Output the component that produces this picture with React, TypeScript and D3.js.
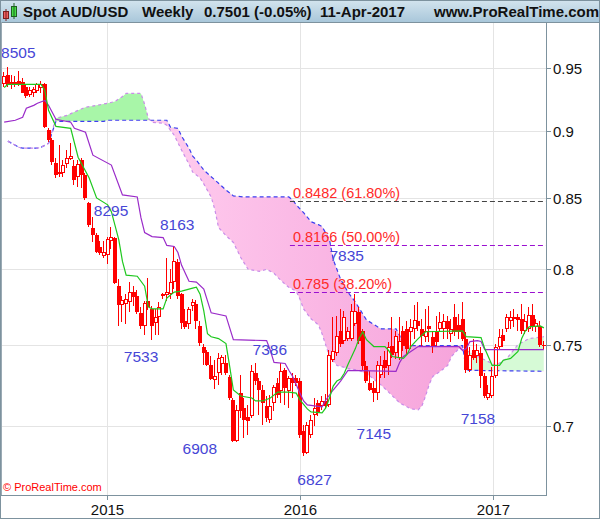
import React from 'react';
import * as d3 from 'd3';

// ---- Weekly OHLC (AUD/USD), first bar week of 20-Jun-2014 ----
const opens = [
  0.9364, 0.9443, 0.9364, 0.9364, 0.9395, 0.9387, 0.9340, 0.9277, 0.9293, 0.9308,
  0.9332, 0.9364, 0.9006, 0.8930, 0.8758, 0.8691, 0.8684, 0.8750, 0.8788, 0.8736,
  0.8655, 0.8780, 0.8669, 0.8467, 0.8290, 0.8241, 0.8151, 0.8089, 0.8096, 0.8193,
  0.8220, 0.7887, 0.7762, 0.7768, 0.7781, 0.7847, 0.7821, 0.7710, 0.7625, 0.7788,
  0.7736, 0.7645, 0.7684, 0.7821, 0.7827, 0.7834, 0.7914, 0.8048, 0.7834, 0.7658,
  0.7638, 0.7755, 0.7768, 0.7625, 0.7486, 0.7455, 0.7373, 0.7281, 0.7324, 0.7379,
  0.7385, 0.7299, 0.7159, 0.6916, 0.7201, 0.7111, 0.7057, 0.7063, 0.7324, 0.7275,
  0.7220, 0.7123, 0.7039, 0.7141, 0.7262, 0.7213, 0.7342, 0.7213, 0.7293, 0.7293,
  0.7275, 0.6975, 0.6841, 0.6951, 0.7069, 0.7141, 0.7123, 0.7153, 0.7129, 0.7405,
  0.7448, 0.7593, 0.7530, 0.7543, 0.7543, 0.7638, 0.7716, 0.7593, 0.7367, 0.7262,
  0.7232, 0.7201, 0.7311, 0.7405, 0.7367, 0.7498, 0.7448, 0.7417, 0.7593, 0.7606,
  0.7587, 0.7606, 0.7658, 0.7606, 0.7555, 0.7625, 0.7555, 0.7587, 0.7606, 0.7606,
  0.7658, 0.7574, 0.7684, 0.7632, 0.7671, 0.7543, 0.7342, 0.7467, 0.7429, 0.7448,
  0.7305, 0.7171, 0.7183, 0.7305, 0.7492, 0.7568, 0.7606, 0.7658, 0.7684, 0.7684,
  0.7671, 0.7593, 0.7606, 0.7697, 0.7619, 0.7625, 0.7505,
];
const highs = [
  0.9460, 0.9505, 0.9443, 0.9435, 0.9468, 0.9419, 0.9356, 0.9340, 0.9340, 0.9379,
  0.9395, 0.9379, 0.9021, 0.8945, 0.8795, 0.8892, 0.8780, 0.8855, 0.8907, 0.8780,
  0.8780, 0.8795, 0.8684, 0.8474, 0.8367, 0.8255, 0.8199, 0.8199, 0.8227, 0.8295,
  0.8227, 0.7934, 0.7821, 0.7834, 0.7914, 0.7887, 0.7860, 0.7749, 0.7788, 0.7940,
  0.7755, 0.7736, 0.7781, 0.7841, 0.8076, 0.8001, 0.8163, 0.8069, 0.7841, 0.7736,
  0.7749, 0.7801, 0.7795, 0.7658, 0.7511, 0.7467, 0.7429, 0.7405, 0.7448, 0.7436,
  0.7436, 0.7311, 0.7171, 0.7129, 0.7311, 0.7171, 0.7129, 0.7373, 0.7385, 0.7293,
  0.7250, 0.7183, 0.7189, 0.7250, 0.7293, 0.7386, 0.7354, 0.7305, 0.7324, 0.7311,
  0.7293, 0.7010, 0.7028, 0.7069, 0.7171, 0.7159, 0.7183, 0.7195, 0.7467, 0.7684,
  0.7690, 0.7736, 0.7723, 0.7619, 0.7768, 0.7835, 0.7749, 0.7606, 0.7398, 0.7336,
  0.7275, 0.7398, 0.7429, 0.7461, 0.7524, 0.7684, 0.7593, 0.7684, 0.7625, 0.7658,
  0.7671, 0.7762, 0.7781, 0.7671, 0.7736, 0.7755, 0.7593, 0.7690, 0.7716, 0.7703,
  0.7690, 0.7671, 0.7768, 0.7703, 0.7781, 0.7587, 0.7492, 0.7543, 0.7511, 0.7492,
  0.7324, 0.7250, 0.7361, 0.7511, 0.7606, 0.7606, 0.7703, 0.7723, 0.7736, 0.7703,
  0.7768, 0.7703, 0.7749, 0.7768, 0.7671, 0.7658, 0.7530,
];
const lows = [
  0.9340, 0.9340, 0.9324, 0.9340, 0.9348, 0.9293, 0.9254, 0.9261, 0.9261, 0.9293,
  0.9300, 0.9021, 0.8915, 0.8743, 0.8648, 0.8655, 0.8655, 0.8721, 0.8780, 0.8596,
  0.8582, 0.8575, 0.8488, 0.8297, 0.8186, 0.8116, 0.8096, 0.8076, 0.8035, 0.8137,
  0.7900, 0.7625, 0.7651, 0.7638, 0.7716, 0.7755, 0.7703, 0.7606, 0.7568, 0.7729,
  0.7533, 0.7568, 0.7568, 0.7801, 0.7788, 0.7801, 0.7867, 0.7801, 0.7606, 0.7606,
  0.7606, 0.7723, 0.7606, 0.7498, 0.7373, 0.7367, 0.7281, 0.7226, 0.7250, 0.7311,
  0.7311, 0.7159, 0.6908, 0.6908, 0.7051, 0.6934, 0.6951, 0.7051, 0.7250, 0.7069,
  0.7010, 0.7028, 0.7022, 0.7093, 0.7171, 0.7141, 0.7129, 0.7111, 0.7171, 0.7244,
  0.6934, 0.6827, 0.6835, 0.6934, 0.7004, 0.7063, 0.7099, 0.7105, 0.7117, 0.7392,
  0.7429, 0.7492, 0.7511, 0.7530, 0.7530, 0.7625, 0.7511, 0.7342, 0.7262, 0.7213,
  0.7145, 0.7159, 0.7293, 0.7293, 0.7311, 0.7417, 0.7411, 0.7405, 0.7461, 0.7436,
  0.7479, 0.7543, 0.7593, 0.7498, 0.7524, 0.7524, 0.7448, 0.7498, 0.7587, 0.7543,
  0.7543, 0.7524, 0.7562, 0.7543, 0.7530, 0.7324, 0.7330, 0.7405, 0.7385, 0.7232,
  0.7171, 0.7158, 0.7171, 0.7293, 0.7479, 0.7492, 0.7587, 0.7606, 0.7619, 0.7593,
  0.7574, 0.7574, 0.7587, 0.7593, 0.7587, 0.7492, 0.7479,
];
const closes = [
  0.9435, 0.9356, 0.9387, 0.9387, 0.9364, 0.9300, 0.9269, 0.9316, 0.9324, 0.9364,
  0.9371, 0.9029, 0.8930, 0.8765, 0.8669, 0.8677, 0.8743, 0.8795, 0.8810, 0.8633,
  0.8750, 0.8669, 0.8502, 0.8311, 0.8241, 0.8123, 0.8116, 0.8123, 0.8213, 0.8227,
  0.7907, 0.7762, 0.7795, 0.7801, 0.7847, 0.7814, 0.7716, 0.7625, 0.7775, 0.7749,
  0.7625, 0.7684, 0.7749, 0.7834, 0.7847, 0.7914, 0.8055, 0.7821, 0.7645, 0.7619,
  0.7736, 0.7781, 0.7658, 0.7517, 0.7448, 0.7373, 0.7287, 0.7305, 0.7417, 0.7423,
  0.7324, 0.7171, 0.6916, 0.7099, 0.7093, 0.7039, 0.7033, 0.7336, 0.7275, 0.7220,
  0.7141, 0.7051, 0.7123, 0.7238, 0.7189, 0.7336, 0.7232, 0.7293, 0.7262, 0.7262,
  0.6951, 0.6841, 0.7010, 0.7039, 0.7111, 0.7087, 0.7153, 0.7123, 0.7436, 0.7461,
  0.7562, 0.7511, 0.7684, 0.7593, 0.7723, 0.7723, 0.7530, 0.7367, 0.7275, 0.7220,
  0.7201, 0.7373, 0.7373, 0.7354, 0.7492, 0.7436, 0.7562, 0.7530, 0.7498, 0.7479,
  0.7619, 0.7664, 0.7625, 0.7562, 0.7593, 0.7606, 0.7498, 0.7524, 0.7651, 0.7658,
  0.7606, 0.7606, 0.7587, 0.7587, 0.7543, 0.7342, 0.7436, 0.7417, 0.7467, 0.7305,
  0.7183, 0.7201, 0.7305, 0.7492, 0.7555, 0.7530, 0.7684, 0.7684, 0.7671, 0.7664,
  0.7593, 0.7658, 0.7697, 0.7619, 0.7645, 0.7505, 0.7501,
];

// ---- Ichimoku lines: [week index, price] vertices ----
const tenkan = [
  [0, 0.9340], [1, 0.9364], [10, 0.9364], [11, 0.9316], [12, 0.9160], [14, 0.9036], [18, 0.9021],
  [20, 0.8802], [23, 0.8648], [25, 0.8502], [28, 0.8452], [29, 0.8403], [31, 0.8206], [32, 0.8055],
  [33, 0.7961], [36, 0.7954], [38, 0.7887], [39, 0.7749], [40, 0.7736], [43, 0.7736], [44, 0.7808],
  [46, 0.7847], [48, 0.7854], [51, 0.7874], [52, 0.7880], [53, 0.7834], [54, 0.7723], [55, 0.7574],
  [56, 0.7555], [58, 0.7543], [60, 0.7511], [61, 0.7367], [62, 0.7220], [64, 0.7183], [67, 0.7171],
  [68, 0.7153], [70, 0.7153], [72, 0.7171], [74, 0.7207], [77, 0.7207], [79, 0.7201], [80, 0.7159],
  [82, 0.7105], [83, 0.7087], [86, 0.7081], [87, 0.7111], [88, 0.7171], [89, 0.7244], [90, 0.7275],
  [91, 0.7287], [92, 0.7324], [93, 0.7379], [94, 0.7429], [95, 0.7479], [96, 0.7543], [97, 0.7587],
  [98, 0.7536], [100, 0.7492], [103, 0.7492], [104, 0.7467], [105, 0.7429], [108, 0.7417], [109, 0.7442],
  [110, 0.7492], [112, 0.7543], [114, 0.7587], [124, 0.7593], [125, 0.7555], [129, 0.7549], [130, 0.7479],
  [132, 0.7373], [134, 0.7373], [135, 0.7405], [137, 0.7417], [139, 0.7461], [140, 0.7543], [141, 0.7593],
  [142, 0.7619], [145, 0.7625], [146, 0.7612],
];
const kijun = [
  [0, 0.9068], [3, 0.9083], [5, 0.9106], [6, 0.9176], [8, 0.9199], [9, 0.9215], [11, 0.9238], [12, 0.9199],
  [14, 0.9091], [18, 0.9068], [19, 0.9021], [22, 0.8991], [24, 0.8817], [29, 0.8743], [32, 0.8524],
  [36, 0.8509], [37, 0.8360], [38, 0.8255], [40, 0.8227], [43, 0.8220], [44, 0.8165], [46, 0.8158],
  [47, 0.8116], [48, 0.8028], [50, 0.7920], [52, 0.7914], [54, 0.7867], [56, 0.7710], [60, 0.7690],
  [62, 0.7536], [71, 0.7530], [72, 0.7467], [73, 0.7392], [76, 0.7385], [77, 0.7342], [78, 0.7305],
  [80, 0.7201], [81, 0.7153], [82, 0.7129], [86, 0.7117], [87, 0.7159], [89, 0.7220], [91, 0.7275],
  [93, 0.7342], [106, 0.7336], [107, 0.7392], [108, 0.7429], [110, 0.7461], [112, 0.7492], [123, 0.7492],
  [124, 0.7467], [125, 0.7479], [126, 0.7524], [128, 0.7530], [129, 0.7524], [130, 0.7473], [146, 0.7473],
];
const senkouA = [
  [1, 0.8923], [2, 0.8907], [4, 0.8877], [5, 0.8870], [9, 0.8870], [10, 0.8877], [12, 0.8907],
  [14, 0.9098], [15, 0.9106], [17, 0.9121], [20, 0.9160], [22, 0.9184], [25, 0.9199], [28, 0.9215],
  [30, 0.9230], [32, 0.9269], [33, 0.9293], [37, 0.9293], [38, 0.9207], [39, 0.9098], [40, 0.9068],
  [43, 0.9060], [44, 0.9044], [46, 0.8968], [48, 0.8855], [50, 0.8750], [51, 0.8691], [53, 0.8648],
  [54, 0.8604], [56, 0.8509], [57, 0.8417], [58, 0.8290], [60, 0.8234], [62, 0.8186], [64, 0.8082],
  [66, 0.8001], [69, 0.7987], [71, 0.8001], [73, 0.7974], [74, 0.7947], [76, 0.7900], [77, 0.7880],
  [79, 0.7854], [80, 0.7801], [81, 0.7736], [83, 0.7671], [85, 0.7632], [86, 0.7574], [88, 0.7429],
  [90, 0.7373], [93, 0.7354], [96, 0.7342], [99, 0.7305], [102, 0.7250], [104, 0.7207], [107, 0.7141],
  [110, 0.7105], [112, 0.7099], [113, 0.7123], [114, 0.7183], [115, 0.7256], [116, 0.7305], [118, 0.7336],
  [120, 0.7373], [121, 0.7429], [123, 0.7479], [125, 0.7467], [127, 0.7442], [133, 0.7373], [136, 0.7417],
  [139, 0.7505], [142, 0.7543], [146, 0.7555],
];
const senkouB = [
  [1, 0.8923], [2, 0.8907], [4, 0.8877], [5, 0.8870], [9, 0.8870], [10, 0.8877], [12, 0.8907],
  [14, 0.9075], [27, 0.9075], [28, 0.9083], [44, 0.9083], [45, 0.9029], [47, 0.9021], [48, 0.8960],
  [50, 0.8870], [51, 0.8810], [52, 0.8780], [54, 0.8706], [57, 0.8633], [60, 0.8560], [62, 0.8517],
  [65, 0.8509], [77, 0.8509], [78, 0.8488], [79, 0.8452], [81, 0.8396], [83, 0.8332], [85, 0.8311],
  [86, 0.8297], [88, 0.8206], [89, 0.8069], [91, 0.7934], [93, 0.7847], [95, 0.7781], [97, 0.7703],
  [98, 0.7664], [101, 0.7619], [102, 0.7606], [106, 0.7606], [107, 0.7562], [108, 0.7498], [124, 0.7498],
  [125, 0.7342], [146, 0.7336],
];

// ---- axes and annotations ----
const yTicks = [0.95, 0.9, 0.85, 0.8, 0.75, 0.7];
const yTickLabels = ['0.95', '0.9', '0.85', '0.8', '0.75', '0.7'];
const xYears = [2015, 2016, 2017];
const fibLevels = [0.8482, 0.8166, 0.785];
const fibLabels = ['0.8482 (61.80%)', '0.8166 (50.00%)', '0.785 (38.20%)'];
const swingTexts = ['8505', '8295', '8163', '7533', '7386', '6908', '6827', '7145', '7835', '7158'];
const swingIndex = [1, 29, 46, 40, 75, 62, 81, 100, 95, 131];
const swingValues = [0.9505, 0.8295, 0.8163, 0.7533, 0.7386, 0.6908, 0.6827, 0.7145, 0.7835, 0.7158];

// layout (label offsets from the swing bar, px)
const swingOffsets = [[10.4, -14.4], [-0.3, -16], [3, -21], [-11, 16], [-11.6, -14], [-33.5, 7], [11, 23.5], [0, 31], [-8.7, -38], [-10.5, 18]];

const W = 600, H = 519;
const PL = 0, PR = 546, PT = 22, PB = 495;
const FRAME = '#7d929e';
const FONT = 'Liberation Sans, Arial, Helvetica, sans-serif';
const weekStart = new Date(2014, 5, 20);
const dateOf = (i: number) => new Date(weekStart.getTime() + i * 7 * 86400000);

export default function App() {
  const x = d3.scaleTime().domain([new Date(2014, 5, 14), new Date(2017, 3, 11)]).range([1, PR]);
  const y = d3.scaleLog().domain([0.66029, 0.98751]).range([PB, PT]);
  const xi = (i: number) => x(dateOf(i));
  const line = d3.line<number[]>().x(d => xi(d[0])).y(d => y(d[1]));

  const ptsA = senkouA.map(d => [xi(d[0]), y(d[1])]);
  const ptsB = senkouB.map(d => [xi(d[0]), y(d[1])]);
  const s = (p: number[][]) => p.map(q => q[0].toFixed(2) + ',' + q[1].toFixed(2)).join('L');
  const cloud = 'M' + s(ptsA) + 'L' + s(ptsB.slice().reverse()) + 'Z';
  const b0 = ptsB[0][0], b1 = ptsB[ptsB.length - 1][0];
  const aboveB = `M${b0},${PT}L${s(ptsB)}L${b1},${PT}Z`;
  const belowB = `M${b0},${PB}L${s(ptsB)}L${b1},${PB}Z`;
  const fibX0 = xi(77.3);

  return (
    <svg width={W} height={H} style={{ position: 'absolute', left: 0, top: 0, background: '#fff' }} fontFamily={FONT}>
      <defs>
        <linearGradient id="title" x1="0" y1="0" x2="0" y2="1">
          <stop offset="0" stopColor="#d3e4ee" />
          <stop offset="1" stopColor="#a9c7da" />
        </linearGradient>
        <linearGradient id="pink" gradientUnits="userSpaceOnUse" x1="150" y1="0" x2="460" y2="0">
          <stop offset="0" stopColor="#ffcdef" />
          <stop offset="1" stopColor="#f6a4db" />
        </linearGradient>
        <linearGradient id="green" gradientUnits="userSpaceOnUse" x1="140" y1="0" x2="470" y2="0">
          <stop offset="0" stopColor="#a8f6a8" />
          <stop offset="1" stopColor="#d6fad6" />
        </linearGradient>
        <clipPath id="above"><path d={aboveB} /></clipPath>
        <clipPath id="below"><path d={belowB} /></clipPath>
        <clipPath id="plot"><rect x={PL} y={PT} width={PR - PL} height={PB - PT} /></clipPath>
      </defs>

      <rect x={0} y={0} width={W} height={H} fill="#fff" />
      {/* grid */}
      <g stroke="#e4e4e4" strokeWidth={1}>
        {yTicks.map(t => <line key={t} x1={PL} x2={PR} y1={Math.round(y(t)) + 0.5} y2={Math.round(y(t)) + 0.5} />)}
        {xYears.map(yr => { const xx = Math.round(x(new Date(yr, 0, 1))) + 0.5; return <line key={yr} x1={xx} x2={xx} y1={PT} y2={PB} />; })}
      </g>

      <g clipPath="url(#plot)">
        {/* cloud */}
        <path d={cloud} fill="url(#pink)" clipPath="url(#below)" />
        <path d={cloud} fill="url(#green)" clipPath="url(#above)" />
        <path d={line(senkouB) || ''} fill="none" stroke="#3d3df0" strokeWidth={1.2} strokeDasharray="4,3" />
        <path d={line(senkouA) || ''} fill="none" stroke="#c98de8" strokeWidth={1.2} strokeDasharray="3,3" />

        {/* fibonacci levels */}
        {fibLevels.map((v, k) => (
          <g key={v}>
            <line x1={fibX0} x2={PR} y1={Math.round(y(v)) + 0.5} y2={Math.round(y(v)) + 0.5}
              stroke={k === 0 ? '#444' : '#9a10d0'} strokeWidth={1} strokeDasharray="5,3" />
            <text x={fibX0 + 3} y={y(v) - 3} fontSize={14.5} fill="#ff2a2a">{fibLabels[k]}</text>
          </g>
        ))}

        {/* candles */}
        <g shapeRendering="crispEdges">
          {opens.map((o, i) => {
            const c = closes[i];
            const cx = Math.round(xi(i));
            const yh = Math.round(y(highs[i])), yl = Math.round(y(lows[i]));
            const top = Math.round(y(Math.max(o, c))), bot = Math.round(y(Math.min(o, c)));
            const bh = Math.max(1, bot - top);
            const up = c > o && bh >= 3;
            return (
              <g key={i}>
                <rect x={cx - 1} y={yh} width={1} height={Math.max(1, yl - yh)} fill="#ff0000" />
                {up ? (
                  <rect x={cx - 1.5} y={top + 0.5} width={3} height={bh - 1} fill="#fff" stroke="#ff0000" strokeWidth={1} />
                ) : (
                  <rect x={cx - 2} y={top} width={4} height={bh} fill="#ff0000" />
                )}
              </g>
            );
          })}
        </g>

        <path d={line(kijun) || ''} fill="none" stroke="#9a2bc9" strokeWidth={1.2} />
        <path d={line(tenkan) || ''} fill="none" stroke="#1ec81e" strokeWidth={1.2} />

        {/* swing labels */}
        {swingTexts.map((t, k) => (
          <text key={t} x={xi(swingIndex[k]) + swingOffsets[k][0]} y={y(swingValues[k]) + swingOffsets[k][1]}
            textAnchor="middle" dominantBaseline="central" fontSize={15.5} fill="#4646d6">{t}</text>
        ))}
        <text x={3} y={491} fontSize={11} fill="#ff0000">© ProRealTime.com</text>
      </g>

      {/* frame */}
      <rect x={0} y={0} width={W} height={PT} fill="url(#title)" />
      <g stroke={FRAME} strokeWidth={1} fill="none" shapeRendering="crispEdges">
        <line x1={0} x2={W} y1={PT + 0.5} y2={PT + 0.5} />
        <line x1={PR + 0.5} x2={PR + 0.5} y1={PT} y2={PB + 1} />
        <line x1={0} x2={PR} y1={PB + 0.5} y2={PB + 0.5} />
        <rect x={0.5} y={0.5} width={W - 1} height={H - 1} />
        <line x1={1.5} x2={1.5} y1={PT} y2={PB} stroke="#9aaab4" />
      </g>

      {/* y axis */}
      <g>
        {yTicks.map((t, k) => {
          const yy = Math.round(y(t)) + 0.5;
          return (
            <g key={t}>
              <line x1={PR} x2={PR + 5} y1={yy} y2={yy} stroke={FRAME} />
              <text x={PR + 7} y={yy} dominantBaseline="central" fontSize={15} fill="#111">{yTickLabels[k]}</text>
            </g>
          );
        })}
      </g>
      {/* x axis */}
      <g>
        {xYears.map(yr => {
          const xx = Math.round(x(new Date(yr, 0, 1))) + 0.5;
          return (
            <g key={yr}>
              <line x1={xx} x2={xx} y1={PB} y2={PB + 5} stroke={FRAME} />
              <text x={xx} y={509} textAnchor="middle" dominantBaseline="central" fontSize={15} fill="#111">{yr}</text>
            </g>
          );
        })}
      </g>

      {/* title */}
      <g>
        <rect x={3.5} y={11.5} width={5} height={7} fill="#f06060" stroke="#7a2020" />
        <line x1={6} x2={6} y1={9} y2={21} stroke="#7a2020" />
        <rect x={11.5} y={6.5} width={5} height={10} fill="#44dd44" stroke="#206020" />
        <line x1={14} x2={14} y1={3} y2={19} stroke="#206020" />
        <g fontWeight="bold" fontSize={15} fill="#111">
          <text x={23} y={17}>Spot AUD/USD</text>
          <text x={142} y={17}>Weekly</text>
          <text x={204} y={17}>0.7501 (-0.05%)</text>
          <text x={320} y={17}>11-Apr-2017</text>
          <text x={434} y={17}>www.ProRealTime.com</text>
        </g>
      </g>
    </svg>
  );
}
